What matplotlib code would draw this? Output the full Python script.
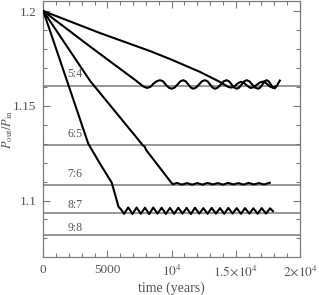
import matplotlib
matplotlib.use("Agg")
import matplotlib.pyplot as plt
from matplotlib.ticker import MultipleLocator, FixedLocator, FixedFormatter

plt.rcParams['font.family'] = ['Liberation Serif', 'DejaVu Serif']
plt.rcParams['mathtext.fontset'] = 'stix'

# ---- data ----
res_labels = ['5:4', '6:5', '7:6', '8:7', '9:8']
res_values = [1.1604, 1.1292, 1.1082, 1.0932, 1.0817]

# curve A (slowest migration)
t_a = [0, 4416, 8310, 9868, 12204, 13762, 14100, 14400, 14650, 14900, 15150, 15400,
       15650, 15900, 16150, 16400, 16650, 16900, 17150, 17400, 17650, 17900, 18100]
v_a = [1.2000, 1.1884, 1.1789, 1.1747, 1.1679, 1.1626, 1.1612, 1.1600, 1.1596, 1.1603,
       1.1618, 1.1627, 1.1620, 1.1605, 1.1594, 1.1598, 1.1612, 1.1624, 1.1628, 1.1617,
       1.1602, 1.1595, 1.1603]

# curve B (captured in 5:4)
t_b = [0, 3600, 7140, 7530, 7800, 8080, 8350, 8600, 8850, 9090, 9320, 9540, 9770,
       10000, 10230, 10450, 10680, 10900, 11100, 11300, 11500, 11680, 11900, 12130,
       12360, 12590, 12800, 13000, 13200, 13370, 13600, 13820, 14050, 14280, 14480,
       14680, 14880, 15060, 15260, 15450, 15650, 15840, 16060, 16280, 16500, 16740,
       16900, 17070, 17230, 17400, 17560, 17730, 17900, 18040, 18200, 18330, 18430]
v_b = [1.2000, 1.1815, 1.1637, 1.1616, 1.1602, 1.1594, 1.1600, 1.1618, 1.1630, 1.1635,
       1.1630, 1.1612, 1.1596, 1.1590, 1.1596, 1.1612, 1.1629, 1.1635, 1.1629, 1.1612,
       1.1596, 1.1590, 1.1596, 1.1612, 1.1629, 1.1635, 1.1629, 1.1612, 1.1596, 1.1590,
       1.1596, 1.1612, 1.1629, 1.1635, 1.1629, 1.1612, 1.1596, 1.1590, 1.1596, 1.1612,
       1.1629, 1.1635, 1.1629, 1.1612, 1.1596, 1.1590, 1.1596, 1.1612, 1.1629, 1.1635,
       1.1629, 1.1612, 1.1596, 1.1592, 1.1605, 1.1622, 1.1633]

# curve C (captured in 7:6)
t_c = [0, 3640, 7790, 7900, 8000, 10000, 10100, 10400, 10800, 11200, 11600, 12000,
       12400, 12800, 13200, 13600, 14000, 14400, 14800, 15200, 15600, 16000, 16400,
       16800, 17200, 17650]
v_c = [1.2000, 1.1632, 1.1289, 1.1285, 1.1268, 1.1092, 1.1086, 1.1093, 1.1084, 1.1092,
       1.1084, 1.1092, 1.1084, 1.1093, 1.1085, 1.1092, 1.1084, 1.1093, 1.1085, 1.1092,
       1.1084, 1.1093, 1.1085, 1.1092, 1.1085, 1.1094]

# curve D (captured in 8:7)
t_d = [0, 1846, 3505, 4416, 5327, 5660, 5857, 6051, 6300, 6620, 6950, 7270, 7600,
       7920, 8250, 8570, 8900, 9220, 9550, 9870, 10200, 10520, 10850, 11170, 11500,
       11820, 12150, 12470, 12800, 13120, 13450, 13770, 14100, 14420, 14750, 15070,
       15400, 15720, 16050, 16370, 16700, 17020, 17350, 17670, 17890]
v_d = [1.2000, 1.1632, 1.1300, 1.1195, 1.1095, 1.1016, 1.0968, 1.0953, 1.0930, 1.0964,
       1.0929, 1.0963, 1.0930, 1.0962, 1.0929, 1.0963, 1.0931, 1.0962, 1.0929, 1.0961,
       1.0930, 1.0962, 1.0931, 1.0961, 1.0929, 1.0962, 1.0931, 1.0960, 1.0930, 1.0961,
       1.0931, 1.0960, 1.0930, 1.0961, 1.0931, 1.0960, 1.0930, 1.0960, 1.0931, 1.0959,
       1.0930, 1.0960, 1.0931, 1.0959, 1.0944]

x_tick_values = [0, 5000, 10000, 15000, 20000]
x_tick_labels = ['0', '5000', r'$10^4$', r'$1.5{\times}10^4$', r'$2{\times}10^4$']
y_tick_values = [1.1, 1.15, 1.2]
y_tick_labels = ['1.1', '1.15', '1.2']

# ---- figure ----
fig = plt.figure(figsize=(3.19, 2.95), dpi=100)
ax = fig.add_axes([0.1357, 0.1288, 0.8047, 0.8678])

gray = '#7a7a7a'
txt = '#555555'

for val in res_values:
    ax.axhline(val, color=gray, lw=1.1, zorder=1)

label_offsets = [12.5, 11, 11, 8, 7.5]  # pixels above each line
for lab, val, off in zip(res_labels, res_values, label_offsets):
    ax.annotate(lab, xy=(1900, val), xytext=(0, off * 0.72), textcoords='offset points',
                ha='left', va='center', fontsize=8.5, color=txt)

for t, v in [(t_a, v_a), (t_b, v_b), (t_c, v_c), (t_d, v_d)]:
    ax.plot(t, v, color='black', lw=1.5, zorder=3, solid_joinstyle='round')

ax.set_xlim(0, 20000)
ax.set_ylim(1.0702, 1.2053)

ax.xaxis.set_major_locator(FixedLocator(x_tick_values))
ax.xaxis.set_major_formatter(FixedFormatter(x_tick_labels))
ax.xaxis.set_minor_locator(MultipleLocator(1000))
ax.yaxis.set_major_locator(FixedLocator(y_tick_values))
ax.yaxis.set_major_formatter(FixedFormatter(y_tick_labels))
ax.yaxis.set_minor_locator(MultipleLocator(0.01))

ax.tick_params(which='both', direction='in', top=True, right=True, colors=gray,
               labelcolor=txt, labelsize=9.5, width=0.8)
ax.tick_params(which='major', length=5, pad=5)
ax.tick_params(which='minor', length=2.8)
for s in ax.spines.values():
    s.set_color(gray)
    s.set_linewidth(0.9)

ax.set_xlabel('time (years)', fontsize=10, color=txt, labelpad=2)
ax.set_ylabel(r'$P_{\rm out}/P_{\rm in}$', fontsize=9, color=txt)
ax.yaxis.set_label_coords(-0.11, 0.5)

fig.savefig('out.png', dpi=100)
